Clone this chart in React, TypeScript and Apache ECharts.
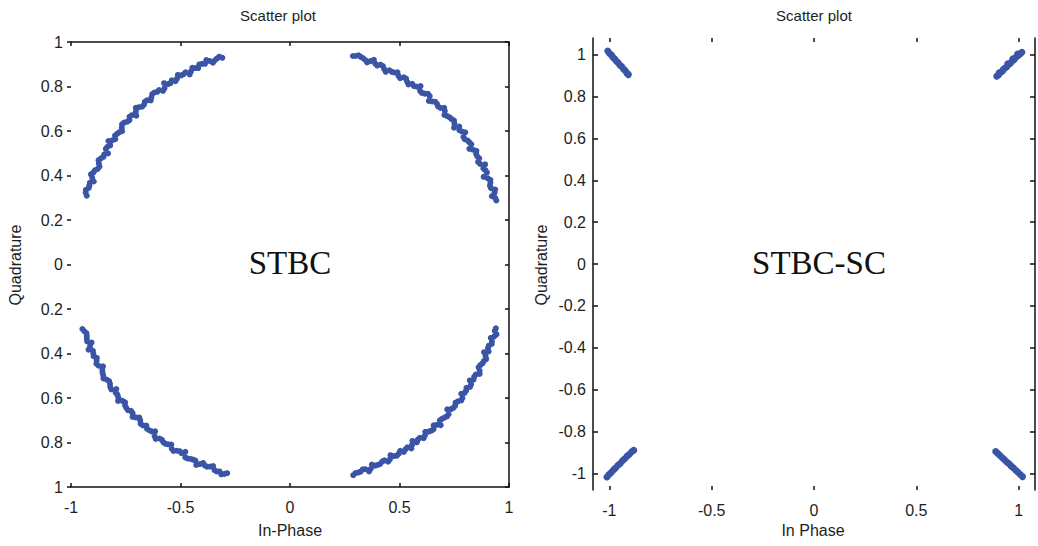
import React, { useEffect, useRef } from "react";
import * as echarts from "echarts";

// ---------- data ----------
const xTicks = [-1, -0.5, 0, 0.5, 1];
const yTicksRight = [-1, -0.8, -0.6, -0.4, -0.2, 0, 0.2, 0.4, 0.6, 0.8, 1];

// STBC (left panel) – four arcs of received symbols
const stbcQ1: number[][] = [
  [0.942, 0.288], [0.922, 0.307], [0.937, 0.337], [0.913, 0.354], [0.915, 0.381],
  [0.884, 0.394], [0.892, 0.424], [0.891, 0.45], [0.859, 0.461], [0.855, 0.486],
  [0.851, 0.511], [0.819, 0.52], [0.819, 0.549], [0.798, 0.563], [0.8, 0.594],
  [0.773, 0.604], [0.749, 0.615], [0.749, 0.647], [0.729, 0.661], [0.705, 0.672],
  [0.704, 0.704], [0.676, 0.71], [0.663, 0.731], [0.634, 0.735], [0.63, 0.767],
  [0.602, 0.771], [0.596, 0.802], [0.566, 0.802], [0.541, 0.809], [0.53, 0.835],
  [0.503, 0.837], [0.491, 0.864], [0.465, 0.866], [0.437, 0.866], [0.424, 0.892],
  [0.398, 0.894], [0.383, 0.92], [0.352, 0.908], [0.334, 0.927], [0.313, 0.94],
  [0.287, 0.937],
  [0.937, 0.299], [0.934, 0.323], [0.918, 0.343], [0.915, 0.368], [0.902, 0.388],
  [0.899, 0.414], [0.883, 0.432], [0.868, 0.452], [0.864, 0.477], [0.85, 0.497],
  [0.835, 0.516], [0.828, 0.54], [0.811, 0.557], [0.792, 0.573], [0.784, 0.598],
  [0.773, 0.62], [0.751, 0.633], [0.738, 0.653], [0.718, 0.667], [0.707, 0.69],
  [0.687, 0.704], [0.671, 0.722], [0.649, 0.733], [0.638, 0.757], [0.615, 0.768],
  [0.594, 0.78], [0.579, 0.799], [0.558, 0.812], [0.535, 0.821], [0.52, 0.841],
  [0.495, 0.848], [0.477, 0.863], [0.454, 0.873], [0.43, 0.878], [0.413, 0.898],
  [0.389, 0.903], [0.367, 0.914], [0.344, 0.919], [0.323, 0.933], [0.299, 0.937],
];
const stbcQ2: number[][] = [
  [-0.928, 0.309], [-0.932, 0.335], [-0.916, 0.355], [-0.896, 0.373], [-0.909, 0.405],
  [-0.891, 0.423], [-0.87, 0.44], [-0.874, 0.469], [-0.852, 0.484], [-0.831, 0.499],
  [-0.834, 0.529], [-0.829, 0.555], [-0.798, 0.563], [-0.79, 0.587], [-0.767, 0.599],
  [-0.767, 0.63], [-0.743, 0.642], [-0.733, 0.664], [-0.702, 0.669], [-0.704, 0.704],
  [-0.675, 0.709], [-0.663, 0.731], [-0.636, 0.737], [-0.629, 0.766], [-0.606, 0.776],
  [-0.58, 0.78], [-0.575, 0.815], [-0.546, 0.815], [-0.523, 0.824], [-0.512, 0.852],
  [-0.486, 0.855], [-0.458, 0.854], [-0.446, 0.884], [-0.419, 0.883], [-0.401, 0.902],
  [-0.382, 0.919], [-0.352, 0.907], [-0.333, 0.926], [-0.309, 0.929],
  [-0.933, 0.323], [-0.919, 0.344], [-0.914, 0.367], [-0.903, 0.389], [-0.898, 0.413],
  [-0.878, 0.43], [-0.873, 0.454], [-0.863, 0.477], [-0.848, 0.495], [-0.841, 0.52],
  [-0.821, 0.535], [-0.812, 0.558], [-0.799, 0.579], [-0.78, 0.594], [-0.768, 0.615],
  [-0.757, 0.638], [-0.733, 0.649], [-0.722, 0.671], [-0.704, 0.687], [-0.69, 0.707],
  [-0.667, 0.718], [-0.653, 0.738], [-0.633, 0.751], [-0.62, 0.773], [-0.598, 0.784],
  [-0.573, 0.792], [-0.557, 0.811], [-0.54, 0.828], [-0.516, 0.835], [-0.497, 0.85],
  [-0.477, 0.864], [-0.452, 0.868], [-0.432, 0.883], [-0.414, 0.899], [-0.388, 0.902],
  [-0.368, 0.915], [-0.343, 0.918], [-0.323, 0.934],
];
const stbcQ3: number[][] = [
  [-0.948, -0.29], [-0.929, -0.309], [-0.928, -0.334], [-0.906, -0.351], [-0.92, -0.383],
  [-0.898, -0.4], [-0.882, -0.419], [-0.884, -0.446], [-0.854, -0.458], [-0.856, -0.486],
  [-0.852, -0.512], [-0.826, -0.524], [-0.821, -0.55], [-0.793, -0.56], [-0.788, -0.585],
  [-0.785, -0.613], [-0.753, -0.619], [-0.747, -0.645], [-0.726, -0.658], [-0.719, -0.685],
  [-0.688, -0.688], [-0.682, -0.716], [-0.656, -0.724], [-0.643, -0.745], [-0.616, -0.75],
  [-0.613, -0.784], [-0.585, -0.788], [-0.568, -0.806], [-0.542, -0.809], [-0.532, -0.838],
  [-0.504, -0.839], [-0.478, -0.842], [-0.468, -0.872], [-0.443, -0.877], [-0.428, -0.901],
  [-0.397, -0.892], [-0.379, -0.909], [-0.351, -0.906], [-0.335, -0.93], [-0.314, -0.943],
  [-0.287, -0.938],
  [-0.939, -0.3], [-0.928, -0.321], [-0.926, -0.346], [-0.913, -0.367], [-0.9, -0.388],
  [-0.897, -0.412], [-0.883, -0.432], [-0.874, -0.455], [-0.857, -0.473], [-0.853, -0.498],
  [-0.837, -0.517], [-0.822, -0.536], [-0.816, -0.561], [-0.796, -0.576], [-0.784, -0.598],
  [-0.765, -0.613], [-0.753, -0.634], [-0.74, -0.655], [-0.719, -0.668], [-0.704, -0.687],
  [-0.684, -0.701], [-0.672, -0.723], [-0.653, -0.738], [-0.632, -0.75], [-0.618, -0.772],
  [-0.596, -0.782], [-0.578, -0.799], [-0.555, -0.808], [-0.54, -0.828], [-0.517, -0.837],
  [-0.495, -0.848], [-0.478, -0.867], [-0.455, -0.874], [-0.432, -0.881], [-0.412, -0.897],
  [-0.389, -0.903], [-0.365, -0.908], [-0.345, -0.924], [-0.322, -0.93], [-0.3, -0.941],
];
const stbcQ4: number[][] = [
  [0.94, -0.287], [0.943, -0.314], [0.917, -0.33], [0.921, -0.357], [0.904, -0.376],
  [0.886, -0.394], [0.896, -0.425], [0.879, -0.444], [0.861, -0.462], [0.866, -0.492],
  [0.841, -0.505], [0.821, -0.521], [0.822, -0.55], [0.804, -0.567], [0.782, -0.581],
  [0.782, -0.611], [0.756, -0.621], [0.746, -0.644], [0.718, -0.651], [0.717, -0.683],
  [0.694, -0.694], [0.688, -0.722], [0.656, -0.723], [0.645, -0.747], [0.618, -0.752],
  [0.61, -0.781], [0.584, -0.787], [0.559, -0.793], [0.554, -0.827], [0.527, -0.831],
  [0.503, -0.837], [0.488, -0.859], [0.459, -0.857], [0.448, -0.886], [0.421, -0.886],
  [0.401, -0.901], [0.374, -0.899], [0.361, -0.93], [0.332, -0.921], [0.311, -0.935],
  [0.289, -0.947],
  [0.935, -0.298], [0.933, -0.323], [0.922, -0.345], [0.908, -0.365], [0.907, -0.391],
  [0.893, -0.411], [0.885, -0.434], [0.869, -0.452], [0.866, -0.478], [0.848, -0.495],
  [0.838, -0.518], [0.827, -0.539], [0.806, -0.554], [0.797, -0.577], [0.787, -0.6],
  [0.767, -0.615], [0.754, -0.635], [0.735, -0.65], [0.724, -0.673], [0.705, -0.688],
  [0.684, -0.701], [0.67, -0.721], [0.655, -0.741], [0.633, -0.751], [0.616, -0.769],
  [0.593, -0.779], [0.579, -0.799], [0.557, -0.811], [0.536, -0.822], [0.52, -0.842],
  [0.497, -0.85], [0.475, -0.861], [0.456, -0.876], [0.431, -0.88], [0.412, -0.896],
  [0.389, -0.904], [0.369, -0.918], [0.344, -0.92], [0.322, -0.931], [0.299, -0.937],
];

// STBC-SC (right panel) – four short clusters at the corners
const scTL: number[][] = [
  [-1.008, 1.018], [-0.999, 1.006], [-0.99, 0.999], [-0.983, 0.988], [-0.975, 0.981],
  [-0.966, 0.97], [-0.958, 0.963], [-0.949, 0.951], [-0.94, 0.944], [-0.931, 0.932],
  [-0.923, 0.925], [-0.914, 0.912], [-0.907, 0.905],
];
const scTR: number[][] = [
  [0.893, 0.897], [0.903, 0.905], [0.912, 0.916], [0.922, 0.923], [0.931, 0.934],
  [0.941, 0.941], [0.95, 0.952], [0.96, 0.96], [0.969, 0.97], [0.979, 0.978],
  [0.988, 0.989], [0.998, 0.996], [1.007, 1.004], [1.016, 1.012], [0.905, 0.914],
  [0.926, 0.931], [0.947, 0.957], [0.972, 0.981], [0.995, 1.003],
];
const scBL: number[][] = [
  [-1.012, -1.018], [-1.002, -1.006], [-0.991, -0.996], [-0.98, -0.984], [-0.97, -0.975],
  [-0.958, -0.962], [-0.947, -0.953], [-0.936, -0.94], [-0.925, -0.931], [-0.913, -0.918],
  [-0.902, -0.909], [-0.891, -0.897], [-0.881, -0.89],
];
const scBR: number[][] = [
  [0.888, -0.896], [0.898, -0.905], [0.909, -0.915], [0.92, -0.926], [0.931, -0.935],
  [0.942, -0.946], [0.953, -0.955], [0.964, -0.966], [0.975, -0.975], [0.986, -0.986],
  [0.997, -0.995], [1.008, -1.006], [1.019, -1.016],
];

const stbcPoints = [...stbcQ1, ...stbcQ2, ...stbcQ3, ...stbcQ4];
const scPoints = [...scTL, ...scTR, ...scBL, ...scBR];

// ---------- style ----------
const FONT = "'Liberation Sans', Arial, sans-serif";
const TXT = "#1e1e1e";
const LINE = { color: "#111", width: 1.5 };
const DOT = "#3a55a5";

export default function App() {
  const ref = useRef<HTMLDivElement>(null);

  useEffect(() => {
    if (!ref.current) return;
    const chart = echarts.init(ref.current, null, { renderer: "svg" });

    const labelStyle = { color: TXT, fontFamily: FONT, fontSize: 16 };
    const fmt = (v: number) => String(Math.round(v * 100) / 100);

    const option: any = {
      animation: false,
      backgroundColor: "#fff",
      grid: [
        { left: 71, top: 42, width: 438, height: 445 },
        { left: 593, top: 38, width: 442, height: 452 },
      ],
      xAxis: [
        {
          gridIndex: 0, type: "value", position: "bottom", min: -1, max: 1, interval: 0.5,
          axisLine: { show: true, onZero: false, lineStyle: LINE },
          axisTick: { show: true, inside: true, length: 4, lineStyle: LINE },
          axisLabel: { ...labelStyle, margin: 12, formatter: fmt },
          splitLine: { show: false },
        },
        {
          gridIndex: 0, type: "value", position: "top", min: -1, max: 1, interval: 0.5,
          axisLine: { show: true, onZero: false, lineStyle: LINE },
          axisTick: { show: true, inside: true, length: 4, lineStyle: LINE },
          axisLabel: { show: false },
          splitLine: { show: false },
        },
        {
          gridIndex: 1, type: "value", position: "bottom", min: -1.08, max: 1.08,
          axisLine: { show: false, onZero: false },
          axisTick: { show: true, inside: true, length: 4, customValues: xTicks, lineStyle: LINE },
          axisLabel: { ...labelStyle, margin: 12, customValues: xTicks, formatter: fmt },
          splitLine: { show: false },
        },
        {
          gridIndex: 1, type: "value", position: "top", min: -1.08, max: 1.08,
          axisLine: { show: false, onZero: false },
          axisTick: { show: true, inside: true, length: 4, customValues: xTicks, lineStyle: LINE },
          axisLabel: { show: false },
          splitLine: { show: false },
        },
      ],
      yAxis: [
        {
          gridIndex: 0, type: "value", position: "left", min: -1, max: 1, interval: 0.2,
          axisLine: { show: false, onZero: false },
          axisTick: { show: true, inside: false, length: 4, lineStyle: LINE },
          axisLabel: {
            ...labelStyle, margin: 8,
            formatter: (v: number) => String(Math.abs(Math.round(v * 10) / 10)),
          },
          splitLine: { show: false },
        },
        {
          gridIndex: 0, type: "value", position: "right", min: -1, max: 1, interval: 0.2,
          axisLine: { show: true, onZero: false, lineStyle: LINE },
          axisTick: { show: true, inside: true, length: 4, lineStyle: LINE },
          axisLabel: { show: false },
          splitLine: { show: false },
        },
        {
          gridIndex: 1, type: "value", position: "left", min: -1.08, max: 1.08,
          axisLine: { show: true, onZero: false, lineStyle: LINE },
          axisTick: { show: true, inside: true, length: 5, customValues: yTicksRight, lineStyle: LINE },
          axisLabel: { ...labelStyle, margin: 7, customValues: yTicksRight, formatter: fmt },
          splitLine: { show: false },
        },
        {
          gridIndex: 1, type: "value", position: "right", min: -1.08, max: 1.08,
          axisLine: { show: true, onZero: false, lineStyle: LINE },
          axisTick: { show: true, inside: true, length: 5, customValues: yTicksRight, lineStyle: LINE },
          axisLabel: { show: false },
          splitLine: { show: false },
        },
      ],
      series: [
        {
          name: "STBC", type: "scatter", xAxisIndex: 0, yAxisIndex: 0,
          data: stbcPoints, symbol: "circle", symbolSize: 6,
          itemStyle: { color: DOT, opacity: 1 }, silent: true,
        },
        {
          name: "STBC-SC", type: "scatter", xAxisIndex: 2, yAxisIndex: 2,
          data: scPoints, symbol: "circle", symbolSize: 7,
          itemStyle: { color: DOT, opacity: 1 }, silent: true,
        },
      ],
      graphic: [
        { type: "text", x: 278, y: 15, style: { text: "Scatter plot", fill: TXT, font: `15px ${FONT}`, align: "center", verticalAlign: "middle" } },
        { type: "text", x: 814, y: 15, style: { text: "Scatter plot", fill: TXT, font: `15px ${FONT}`, align: "center", verticalAlign: "middle" } },
        { type: "text", x: 290, y: 530, style: { text: "In-Phase", fill: TXT, font: `16px ${FONT}`, align: "center", verticalAlign: "middle" } },
        { type: "text", x: 813, y: 530, style: { text: "In Phase", fill: TXT, font: `16px ${FONT}`, align: "center", verticalAlign: "middle" } },
        { type: "text", x: 15, y: 265, rotation: Math.PI / 2, style: { text: "Quadrature", fill: TXT, font: `16px ${FONT}`, align: "center", verticalAlign: "middle" } },
        { type: "text", x: 541, y: 265, rotation: Math.PI / 2, style: { text: "Quadrature", fill: TXT, font: `16px ${FONT}`, align: "center", verticalAlign: "middle" } },
        { type: "text", x: 290, y: 263, style: { text: "STBC", fill: "#111", font: `33px 'Liberation Serif', 'Times New Roman', serif`, align: "center", verticalAlign: "middle" } },
        { type: "text", x: 819, y: 263, style: { text: "STBC-SC", fill: "#111", font: `33px 'Liberation Serif', 'Times New Roman', serif`, align: "center", verticalAlign: "middle" } },
      ],
    };

    chart.setOption(option);
    return () => chart.dispose();
  }, []);

  return (
    <div
      ref={ref}
      style={{ position: "fixed", left: 0, top: 0, width: 1038, height: 546, background: "#fff" }}
    />
  );
}
